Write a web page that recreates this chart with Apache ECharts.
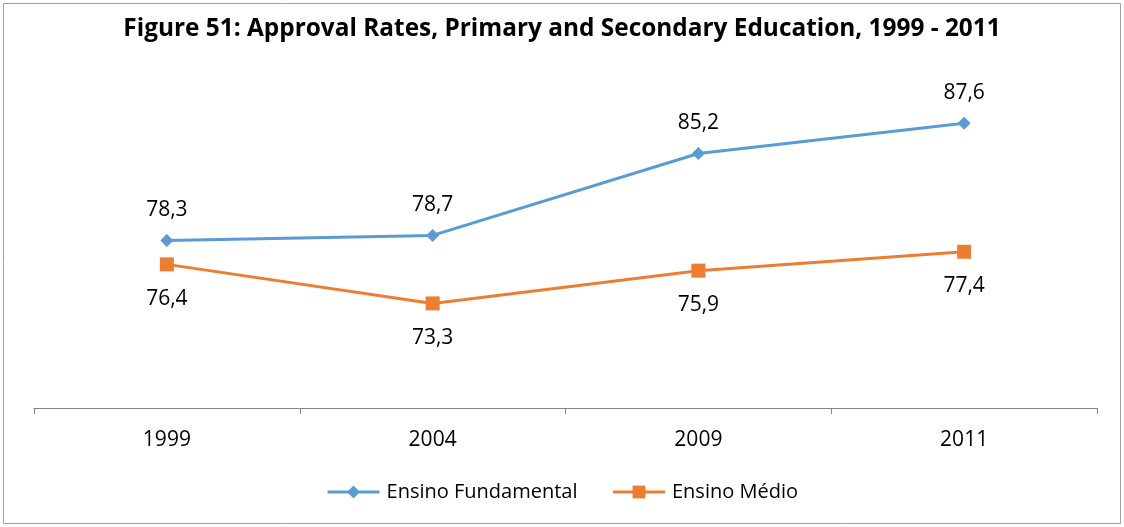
<!DOCTYPE html>
<html><head><meta charset="utf-8">
<script src="https://cdn.jsdelivr.net/npm/echarts@6/dist/echarts.min.js"></script>
<style>html,body{margin:0;padding:0;background:#fff}#c{width:1124px;height:527px}</style>
</head><body><div id="c"></div>
<script>
const categories = ['1999', '2004', '2009', '2011'];
const fundamental = [78.3, 78.7, 85.2, 87.6];
const medio = [76.4, 73.3, 75.9, 77.4];
const seriesNames = ['Ensino Fundamental', 'Ensino Médio'];
const titleText = 'Figure 51: Approval Rates, Primary and Secondary Education, 1999 - 2011';

const FONT = "'Open Sans', 'Noto Sans', sans-serif";
const fmt = p => String(p.value).replace('.', ',');
const chart = echarts.init(document.getElementById('c'));
chart.setOption({
  animation: false,
  textStyle: { fontFamily: FONT },
  title: { text: titleText, left: 'center', top: 12,
    textStyle: { fontFamily: FONT, fontWeight: 'bold', fontSize: 24.4, color: '#000' } },
  grid: { left: 34, right: 27, top: 93, bottom: 119 },
  graphic: [{ type: 'rect', shape: { x: 3.5, y: 3.5, width: 1117, height: 520 },
    style: { fill: 'none', stroke: '#a0a0a0', lineWidth: 1 }, silent: true }],
  legend: { bottom: 20, left: 'center', itemWidth: 52, itemHeight: 16, itemGap: 34,
    lineStyle: { width: 3 },
    textStyle: { fontFamily: FONT, fontSize: 20, color: '#000', padding: [0, 0, 0, 2] },
    data: seriesNames },
  xAxis: { type: 'category', data: categories, boundaryGap: true,
    axisLine: { lineStyle: { color: '#868686' } },
    axisTick: { show: true, length: 6, inside: false, lineStyle: { color: '#868686' } },
    axisLabel: { fontFamily: FONT, fontSize: 21, color: '#000', margin: 22 } },
  yAxis: { type: 'value', min: 65, max: 90, show: false, splitLine: { show: false } },
  series: [
    { name: seriesNames[0], type: 'line', data: fundamental, symbol: 'diamond', symbolSize: 13,
      color: '#5B9BD5', lineStyle: { width: 3, color: '#5B9BD5' },
      label: { show: true, position: 'top', distance: 13, formatter: fmt,
        fontFamily: FONT, fontSize: 21, color: '#000' } },
    { name: seriesNames[1], type: 'line', data: medio, symbol: 'rect', symbolSize: 14,
      color: '#ED7D31', lineStyle: { width: 3, color: '#ED7D31' },
      label: { show: true, position: 'bottom', distance: 17, formatter: fmt,
        fontFamily: FONT, fontSize: 21, color: '#000' } }
  ]
});
</script></body></html>
